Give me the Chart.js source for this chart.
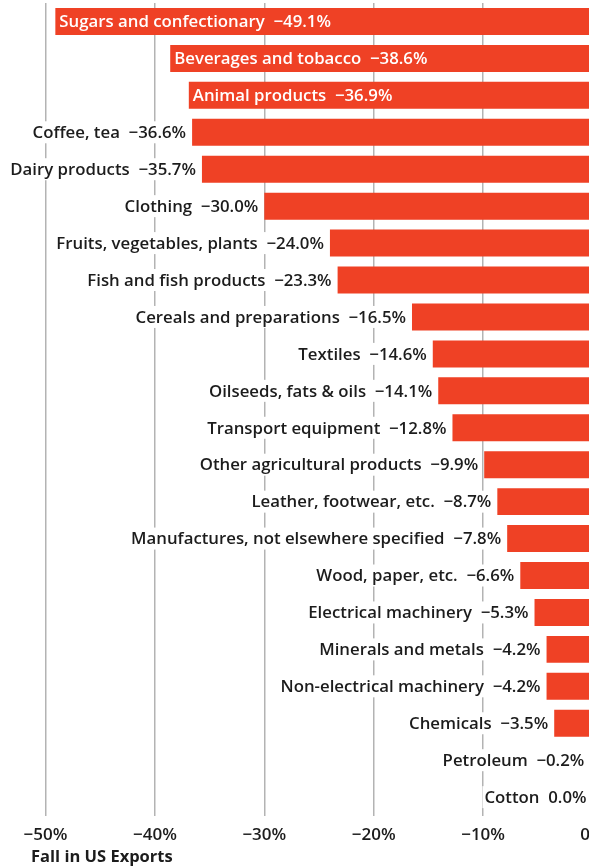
<!DOCTYPE html>
<html>
<head>
<meta charset="utf-8">
<script src="https://cdn.jsdelivr.net/npm/chart.js@4.4.0/dist/chart.umd.min.js"></script>
<style>
  html, body { margin: 0; padding: 0; background: #fff; overflow: hidden; }
  #wrap { width: 620px; height: 867px; }
</style>
</head>
<body>
<div id="wrap"><canvas id="chart" width="620" height="867"></canvas></div>
<script>
// categories and values
const categories = [
  "Sugars and confectionary",
  "Beverages and tobacco",
  "Animal products",
  "Coffee, tea",
  "Dairy products",
  "Clothing",
  "Fruits, vegetables, plants",
  "Fish and fish products",
  "Cereals and preparations",
  "Textiles",
  "Oilseeds, fats & oils",
  "Transport equipment",
  "Other agricultural products",
  "Leather, footwear, etc.",
  "Manufactures, not elsewhere specified",
  "Wood, paper, etc.",
  "Electrical machinery",
  "Minerals and metals",
  "Non-electrical machinery",
  "Chemicals",
  "Petroleum",
  "Cotton"
];
const changes = [-49.1, -38.6, -36.9, -36.6, -35.7, -30.0, -24.0, -23.3, -16.5, -14.6,
  -14.1, -12.8, -9.9, -8.7, -7.8, -6.6, -5.3, -4.2, -4.2, -3.5, -0.2, 0.0];
const xTicks = [-50, -40, -30, -20, -10, 0];
const axisTitle = "Fall in US Exports";

const BAR = "#EF4125";
const INK = "#1c1c1c";
const FONT = "'Open Sans'";

const fmt = v => (v < 0 ? "\u2212" : "") + Math.abs(v).toFixed(1) + "%";

// draws "name  value" at the end of every bar; inside (white) if it does not fit outside
const barLabels = {
  id: "barLabels",
  afterDatasetsDraw(chart) {
    const ctx = chart.ctx;
    const meta = chart.getDatasetMeta(0);
    ctx.save();
    ctx.font = `600 16.8px ${FONT}`;
    ctx.textBaseline = "middle";
    meta.data.forEach((bar, i) => {
      const text = categories[i] + "  " + fmt(changes[i]);
      const w = ctx.measureText(text).width;
      const start = bar.x; // left end of the bar (value side)
      const y = bar.y + 1;
      if (start - 6 - w < 2) {
        ctx.fillStyle = "#fff";
        ctx.textAlign = "left";
        ctx.fillText(text, start + 4, y);
      } else {
        ctx.fillStyle = "#fff";
        ctx.fillRect(start - 8 - w, bar.y - 11, w + 4, 22);
        ctx.fillStyle = INK;
        ctx.textAlign = "right";
        ctx.fillText(text, start - 6, y);
      }
    });
    // axis title
    ctx.font = `bold 16.5px ${FONT}`;
    ctx.fillStyle = INK;
    ctx.textAlign = "left";
    ctx.fillText(axisTitle, 31, 857);
    ctx.restore();
  }
};

new Chart(document.getElementById("chart"), {
  type: "bar",
  data: {
    labels: categories,
    datasets: [{
      data: changes,
      backgroundColor: BAR,
      borderWidth: 0,
      barPercentage: 0.73,
      categoryPercentage: 1.0
    }]
  },
  options: {
    indexAxis: "y",
    responsive: false,
    animation: false,
    devicePixelRatio: 1,
    layout: { padding: { top: 3, left: 45.5, right: 27.5, bottom: 13 } },
    plugins: { legend: { display: false }, tooltip: { enabled: false } },
    scales: {
      y: { display: false },
      x: {
        min: -50,
        max: 0,
        afterBuildTicks: axis => { axis.ticks = xTicks.map(v => ({ value: v })); },
        grid: { color: "#b3b3b3", lineWidth: 1.5, drawTicks: false },
        border: { display: false },
        ticks: {
          padding: 9,
          color: INK,
          font: { family: FONT, size: 17, weight: "600" },
          callback: v => (v < 0 ? "\u2212" : "") + Math.abs(v) + "%"
        }
      }
    }
  },
  plugins: [barLabels]
});
</script>
</body>
</html>
